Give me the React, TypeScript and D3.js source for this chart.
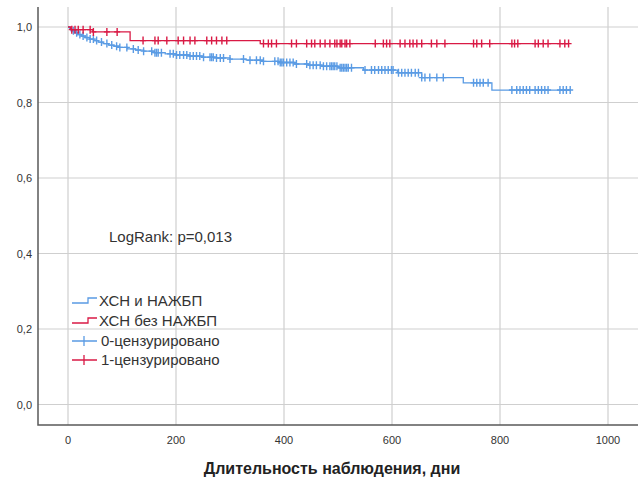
import React, { useEffect, useRef } from 'react';
import * as d3 from 'd3';

// ХСН и НАЖБП (blue): times of events and survival after each step
const blueDays = [0, 3, 7, 12, 18, 25, 32, 40, 48, 56, 65, 75, 85, 95, 110, 125, 140, 160, 180, 200, 225, 250, 275, 300, 330, 360, 390, 420, 445, 470, 500, 547, 610, 655, 732, 785];
const blueSurv = [1.0, 0.995, 0.99, 0.985, 0.98, 0.976, 0.972, 0.968, 0.964, 0.96, 0.956, 0.952, 0.949, 0.946, 0.942, 0.939, 0.936, 0.932, 0.929, 0.926, 0.923, 0.92, 0.918, 0.915, 0.912, 0.909, 0.906, 0.902, 0.899, 0.896, 0.892, 0.886, 0.879, 0.866, 0.852, 0.833];
const blueCensored = [10, 16, 22, 28, 35, 41, 47, 53, 62, 72, 81, 90, 96, 109, 121, 130, 140, 155, 161, 164, 167, 173, 189, 195, 201, 207, 214, 220, 226, 232, 238, 244, 251, 263, 266, 269, 275, 282, 288, 300, 325, 337, 349, 356, 362, 383, 389, 393, 396, 399, 405, 411, 417, 423, 442, 448, 454, 460, 467, 473, 479, 485, 488, 491, 494, 498, 504, 507, 510, 513, 516, 519, 525, 550, 562, 568, 575, 581, 587, 593, 599, 602, 612, 618, 624, 630, 636, 643, 649, 655, 661, 670, 683, 695, 751, 757, 763, 769, 778, 822, 831, 837, 843, 849, 855, 865, 871, 877, 883, 889, 911, 917, 923, 930];

// ХСН без НАЖБП (red)
const redDays = [0, 5, 46, 115, 356];
const redSurv = [1.0, 0.993, 0.987, 0.964, 0.956];
const redCensored = [7, 13, 19, 28, 41, 47, 72, 91, 139, 161, 167, 183, 204, 214, 226, 235, 257, 266, 275, 285, 294, 362, 371, 377, 386, 414, 423, 442, 451, 457, 467, 476, 485, 494, 498, 504, 507, 513, 516, 522, 569, 584, 590, 596, 615, 624, 633, 639, 646, 655, 673, 683, 698, 751, 757, 766, 781, 822, 827, 833, 865, 871, 880, 889, 911, 920, 927];

const xTicks = [0, 200, 400, 600, 800, 1000];
const yTicks = [0, 0.2, 0.4, 0.6, 0.8, 1.0];

const legendLabels = ['ХСН и НАЖБП', 'ХСН без НАЖБП', '0-цензурировано', '1-цензурировано'];

const BLUE = '#5a9be4';
const RED = '#d91a45';
const FONT = '"Liberation Sans", Arial, sans-serif';

export default function App() {
    const ref = useRef<SVGSVGElement>(null);

    useEffect(() => {
        const svg = d3.select(ref.current);
        svg.selectAll('*').remove();

        const x = d3.scaleLinear().domain([0, 1000]).range([68, 608]);
        const y = d3.scaleLinear().domain([0, 1]).range([404.5, 27]);
        const left = 38, right = 638, top = 7, bottom = 425;

        // сетка
        const grid = svg.append('g');
        grid.selectAll('.vg')
            .data(xTicks)
            .enter()
            .append('line')
            .attr('x1', d => x(d)).attr('x2', d => x(d))
            .attr('y1', top).attr('y2', bottom)
            .attr('stroke', '#cfcfcf').attr('stroke-width', 1.2);
        grid.selectAll('.hg')
            .data(yTicks)
            .enter()
            .append('line')
            .attr('x1', left).attr('x2', right)
            .attr('y1', d => y(d)).attr('y2', d => y(d))
            .attr('stroke', '#cfcfcf').attr('stroke-width', 1.2);

        // оси
        svg.append('path')
            .attr('d', `M${left},${top}V${bottom}H${right}`)
            .attr('fill', 'none')
            .attr('stroke', '#5a5a5a')
            .attr('stroke-width', 1.5);

        svg.selectAll('.yt')
            .data(yTicks)
            .enter()
            .append('text')
            .attr('x', 32)
            .attr('y', d => y(d) + 4)
            .attr('text-anchor', 'end')
            .attr('font-family', FONT)
            .attr('font-size', 11)
            .attr('fill', '#333')
            .text(d => d3.format('.1f')(d).replace('.', ','));

        svg.selectAll('.xt')
            .data(xTicks)
            .enter()
            .append('text')
            .attr('x', d => x(d))
            .attr('y', 444)
            .attr('text-anchor', 'middle')
            .attr('font-family', FONT)
            .attr('font-size', 11)
            .attr('fill', '#333')
            .text(d => String(d));

        svg.append('text')
            .attr('x', 332)
            .attr('y', 474)
            .attr('text-anchor', 'middle')
            .attr('font-family', FONT)
            .attr('font-size', 16)
            .attr('font-weight', 'bold')
            .attr('fill', '#222')
            .text('Длительность наблюдения, дни');

        svg.append('text')
            .attr('x', 109)
            .attr('y', 242)
            .attr('font-family', FONT)
            .attr('font-size', 15)
            .attr('fill', '#333')
            .text('LogRank: p=0,013');

        const line = d3.line<[number, number]>()
            .x(d => x(d[0]))
            .y(d => y(d[1]))
            .curve(d3.curveStepAfter);

        const survAt = (days: number[], surv: number[], t: number) => {
            const i = d3.bisectRight(days, t) - 1;
            return surv[Math.max(0, i)];
        };

        const drawGroup = (days: number[], surv: number[], cens: number[], color: string) => {
            const end = d3.max(cens) as number;
            const pts: [number, number][] = days.map((d, i) => [d, surv[i]] as [number, number]);
            pts.push([end, surv[surv.length - 1]]);
            svg.append('path')
                .attr('d', line(pts) as string)
                .attr('fill', 'none')
                .attr('stroke', color)
                .attr('stroke-width', 1.3);
            const g = svg.append('g').attr('stroke', color).attr('stroke-width', 1.4);
            cens.forEach(c => {
                const cx = x(c), cy = y(survAt(days, surv, c));
                g.append('path').attr('d', `M${cx - 3},${cy}H${cx + 3}M${cx},${cy - 4}V${cy + 4}`);
            });
        };

        drawGroup(blueDays, blueSurv, blueCensored, BLUE);
        drawGroup(redDays, redSurv, redCensored, RED);

        // легенда
        const legend = svg.append('g');
        const rowY = [301, 321, 341, 360];
        const colors = [BLUE, RED, BLUE, RED];
        legendLabels.forEach((label, i) => {
            const ly = rowY[i];
            if (i < 2) {
                legend.append('path')
                    .attr('d', `M72,${ly + 2}H88V${ly - 3}H97`)
                    .attr('fill', 'none')
                    .attr('stroke', colors[i])
                    .attr('stroke-width', 1.3);
            } else {
                legend.append('path')
                    .attr('d', `M72,${ly}H97M84,${ly - 5}V${ly + 5}`)
                    .attr('fill', 'none')
                    .attr('stroke', colors[i])
                    .attr('stroke-width', 1.3);
            }
            legend.append('text')
                .attr('x', i < 2 ? 99 : 101)
                .attr('y', ly + 5)
                .attr('font-family', FONT)
                .attr('font-size', 15)
                .attr('fill', '#333')
                .text(label);
        });
    }, []);

    return (
        <svg ref={ref} width={643} height={479}
             style={{ position: 'absolute', left: 0, top: 0, background: '#fff' }} />
    );
}
